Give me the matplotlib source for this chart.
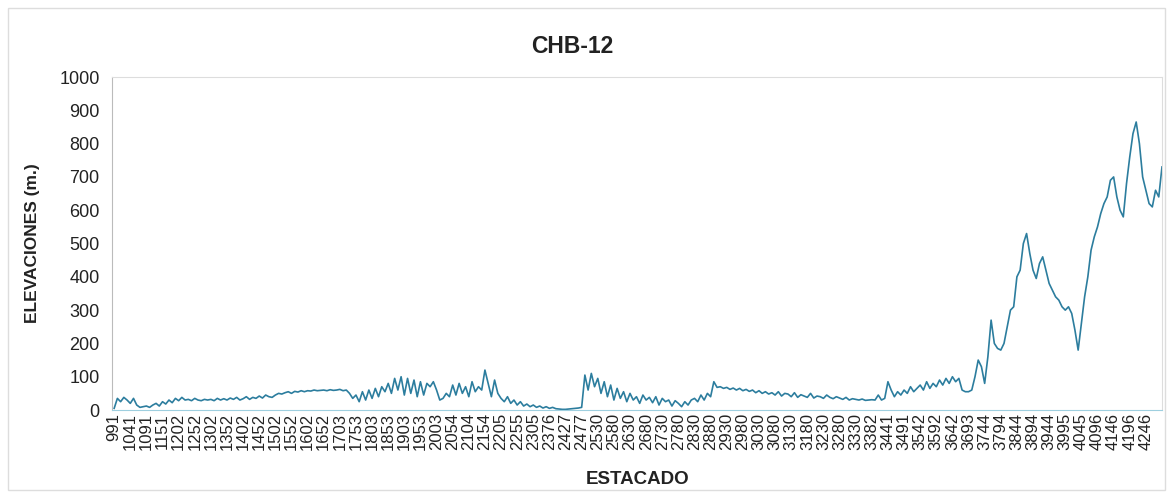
import numpy as np
import matplotlib.pyplot as plt
from matplotlib.patches import Rectangle

plt.rcParams['font.family'] = ['Liberation Sans', 'DejaVu Sans']

# station labels shown on the category axis (one every 50 points)
station_labels = [
    "991", "1041", "1091", "1151", "1202", "1252", "1302", "1352", "1402", "1452",
    "1502", "1552", "1602", "1652", "1703", "1753", "1803", "1853", "1903", "1953",
    "2003", "2054", "2104", "2154", "2205", "2255", "2305", "2376", "2427", "2477",
    "2530", "2580", "2630", "2680", "2730", "2780", "2830", "2880", "2930", "2980",
    "3030", "3080", "3130", "3180", "3230", "3280", "3330", "3382", "3441", "3491",
    "3542", "3592", "3642", "3693", "3744", "3794", "3844", "3894", "3944", "3995",
    "4045", "4096", "4146", "4196", "4246",
]

# elevation read every 10 points (5 per labelled interval)
elev = [
    5, 35, 25, 38, 30,      20, 35, 15, 8, 10,      12, 8, 15, 20, 12,
    25, 18, 30, 22, 35,     28, 38, 30, 32, 28,     35, 30, 28, 32, 30,
    32, 28, 35, 30, 34,     30, 36, 32, 38, 30,     34, 40, 32, 38, 35,
    42, 36, 45, 40, 38,     45, 50, 48, 52, 55,     50, 56, 54, 58, 55,
    58, 57, 60, 58, 59,     60, 58, 61, 59, 60,     62, 58, 60, 50, 35,
    45, 25, 55, 30, 60,     35, 65, 40, 70, 55,     80, 50, 95, 60, 100,
    45, 95, 50, 90, 40,     85, 45, 80, 70, 85,     60, 30, 35, 50, 40,
    75, 45, 80, 50, 70,     40, 85, 55, 70, 60,     120, 80, 40, 90, 50,
    35, 25, 40, 20, 30,     15, 25, 12, 18, 10,     15, 8, 12, 6, 10,
    5, 8, 4, 3, 2,          2, 3, 4, 5, 6,          8, 105, 60, 110, 70,
    95, 50, 85, 40, 75,     30, 65, 35, 55, 25,     50, 30, 40, 20, 45,
    30, 38, 22, 40, 15,     35, 25, 30, 12, 28,     20, 10, 25, 15, 30,
    35, 25, 45, 30, 50,     40, 85, 68, 70, 65,     68, 62, 66, 60, 65,
    58, 62, 56, 60, 52,     58, 50, 55, 48, 52,     45, 55, 42, 50, 48,
    40, 52, 38, 46, 42,     38, 50, 36, 42, 40,     35, 45, 38, 34, 40,
    36, 32, 38, 30, 34,     32, 30, 33, 29, 30,     31, 30, 45, 30, 35,
    85, 60, 40, 55, 45,     60, 50, 70, 55, 65,     75, 60, 85, 65, 80,
    70, 90, 75, 95, 80,     100, 85, 95, 60, 55,    55, 60, 100, 150, 130,
    80, 160, 270, 200, 185, 180, 200, 250, 300, 310, 400, 420, 500, 530, 470,
    420, 395, 440, 460, 420, 380, 360, 340, 330, 310, 300, 310, 290, 240, 180,
    260, 340, 400, 480, 520, 550, 590, 620, 640, 690, 700, 640, 600, 580, 680,
    760, 830, 865, 800, 700, 660, 620, 610, 660, 640, 730,
]

idx = np.arange(len(elev)) * 10
tick_pos = np.arange(len(station_labels)) * 50

fig = plt.figure(figsize=(11.69, 4.97), dpi=100)
ax = fig.add_axes([0.096, 0.175, 0.898, 0.67])

ax.plot(idx, elev, color='#2c7d9e', lw=1.2)

ax.set_xlim(-6, idx[-1])
ax.set_ylim(0, 1000)
ax.set_yticks(np.arange(0, 1001, 100))
ax.set_xticks(tick_pos)
ax.set_xticklabels(station_labels, rotation=90, fontsize=12, color='#222222')
ax.tick_params(axis='y', labelsize=13, colors='#222222', length=0, pad=9)
ax.tick_params(axis='x', length=0, pad=2)

for side in ['top', 'right']:
    ax.spines[side].set_color('#dddddd')
ax.spines['left'].set_color('#bbbbbb')
ax.spines['bottom'].set_color('#9ecfdf')

ax.set_title("CHB-12", fontsize=16.5, fontweight='bold', color='#222222', pad=17, x=0.438)
ax.set_ylabel("ELEVACIONES (m.)", fontsize=12.5, fontweight='bold', color='#222222', labelpad=14)
ax.set_xlabel("ESTACADO", fontsize=13.5, fontweight='bold', color='#222222')
ax.xaxis.set_label_coords(0.5, -0.182)

fig.patches.append(Rectangle((0.007, 0.015), 0.99, 0.968, transform=fig.transFigure,
                             fill=False, edgecolor='#dddddd', lw=1))

fig.savefig("out.png", dpi=100)
